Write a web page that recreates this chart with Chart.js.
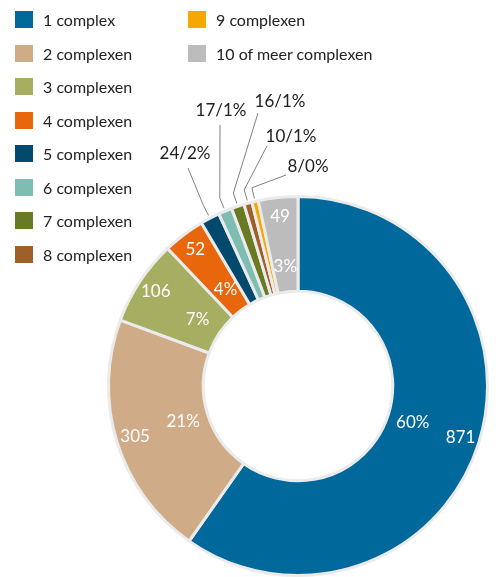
<!DOCTYPE html>
<html>
<head>
<meta charset="utf-8">
<script src="https://cdn.jsdelivr.net/npm/chart.js@4.4.1/dist/chart.umd.min.js"></script>
<style>
  body { margin: 0; background: #fff; font-family: Lato, 'Open Sans', sans-serif; }
  #wrap { position: relative; width: 496px; height: 577px; }
  #legend { position: absolute; left: 0; top: 0; }
  .item { position: absolute; font-size: 16px; color: #222; white-space: nowrap; line-height: 18px; }
  .item span.box { position: absolute; left: 0; top: 0; width: 18px; height: 17px; }
  .item span.txt { position: absolute; left: 28px; top: 0; }
</style>
</head>
<body>
<div id="wrap">
  <canvas id="chart" width="496" height="577"></canvas>
  <div id="legend"></div>
</div>
<script>
// data
const categories = ['1 complex', '2 complexen', '3 complexen', '4 complexen', '5 complexen',
  '6 complexen', '7 complexen', '8 complexen', '9 complexen', '10 of meer complexen'];
const counts = [871, 305, 106, 52, 24, 17, 16, 10, 8, 49];
const percents = [60, 21, 7, 4, 2, 1, 1, 1, 0, 3];
const colors = ['#01689b', '#cfab87', '#a6ae62', '#e8660c', '#014a6e',
  '#7fbdb2', '#697a24', '#9e5f2a', '#f6a800', '#bcbcbc'];

// legend (twee kolommen, eerst 8 onder elkaar)
const legend = document.getElementById('legend');
categories.forEach((c, i) => {
  const col = i < 8 ? 0 : 1;
  const row = i < 8 ? i : i - 8;
  const el = document.createElement('div');
  el.className = 'item';
  el.style.left = (col ? 188 : 15) + 'px';
  el.style.top = (11 + row * 33.5) + 'px';
  el.innerHTML = '<span class="box" style="background:' + colors[i] + '"></span><span class="txt">' + c + '</span>';
  legend.appendChild(el);
});

// posities van de labels bij kleine segmenten, t.o.v. het midden: [tekst x, tekst y, lijn x, lijn y]
const callouts = {
  4: [-113, -232, -110, -218],
  5: [-77, -275, -78, -261],
  6: [-18, -284, -40, -273],
  7: [-7, -249, -31, -240],
  8: [10, -219, -12, -211]
};

const sliceLabels = {
  id: 'sliceLabels',
  afterDatasetsDraw(chart) {
    const ctx = chart.ctx;
    const meta = chart.getDatasetMeta(0);
    ctx.save();
    ctx.font = '17px Lato, "Open Sans", sans-serif';
    ctx.textAlign = 'center';
    ctx.textBaseline = 'middle';
    meta.data.forEach((arc, i) => {
      const p = arc.getProps(['x', 'y', 'startAngle', 'endAngle', 'innerRadius', 'outerRadius'], true);
      const mid = (p.startAngle + p.endAngle) / 2;
      const pct = percents[i] + '%';
      const at = r => [p.x + Math.cos(mid) * r, p.y + Math.sin(mid) * r];
      if (callouts[i]) {
        const [tx, ty, lx, ly] = callouts[i];
        const a = at(p.outerRadius + 3);
        const b = at(p.outerRadius + 14);
        ctx.strokeStyle = '#808080';
        ctx.lineWidth = 1;
        ctx.beginPath();
        ctx.moveTo(a[0], a[1]);
        ctx.lineTo(b[0], b[1]);
        ctx.lineTo(p.x + lx, p.y + ly);
        ctx.stroke();
        ctx.fillStyle = '#222';
        ctx.fillText(counts[i] + '/' + pct, p.x + tx, p.y + ty);
      } else {
        const w = p.outerRadius - p.innerRadius;
        ctx.fillStyle = '#fff';
        const v = at(p.innerRadius + w * 0.8);
        ctx.fillText(String(counts[i]), v[0], v[1]);
        const q = at(p.innerRadius + w * 0.27);
        ctx.fillText(pct, q[0], q[1]);
      }
    });
    ctx.restore();
  }
};

new Chart(document.getElementById('chart'), {
  type: 'doughnut',
  data: {
    labels: categories,
    datasets: [{
      data: counts,
      backgroundColor: colors,
      borderColor: '#ebebeb',
      borderWidth: 3
    }]
  },
  options: {
    responsive: false,
    animation: false,
    cutout: '50%',
    layout: { padding: { left: 106, right: 6, top: 195, bottom: -2 } },
    plugins: {
      legend: { display: false },
      tooltip: { enabled: false }
    }
  },
  plugins: [sliceLabels]
});
</script>
</body>
</html>
